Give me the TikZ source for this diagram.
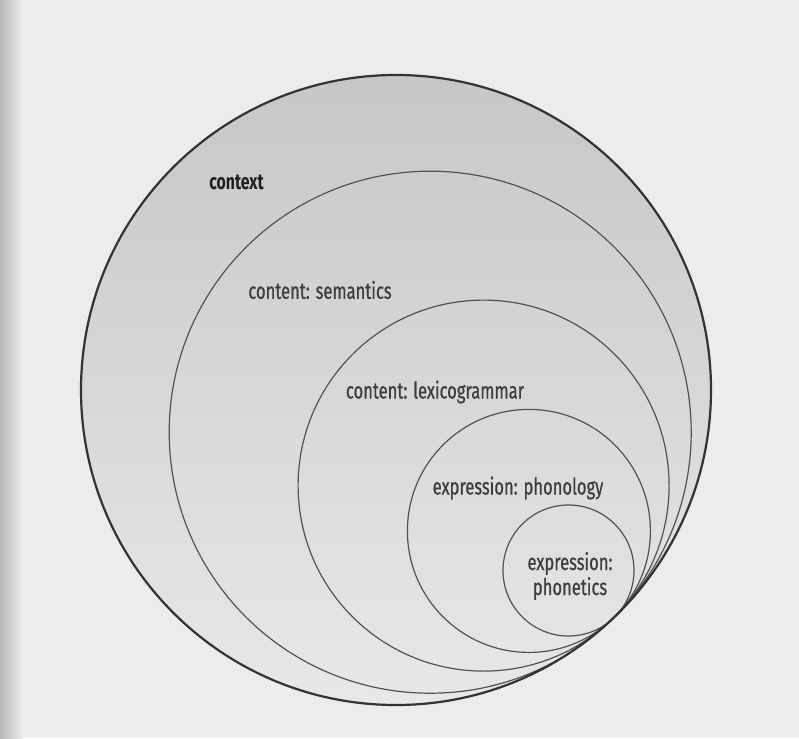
\documentclass[tikz,border=0pt]{standalone}
\usepackage{fontspec}
\setmainfont{Fira Sans}[FakeStretch=0.72, FakeBold=0.6]
\newfontfamily\ctxfont{Fira Sans}[FakeStretch=0.72]
\begin{document}
\begin{tikzpicture}[x=1pt,y=-1pt,
  ring/.style={draw=black!68, line width=1.2pt},
  outerring/.style={draw=black!80, line width=2.2pt},
  lbl/.style={text=black!76, font=\fontsize{23}{27}\selectfont, inner sep=0pt},
  boldlbl/.style={text=black!88, font=\ctxfont\fontsize{22}{26}\selectfont\bfseries, inner sep=0pt}]
\definecolor{pagebg}{RGB}{236,236,236}
\useasboundingbox (0,0) rectangle (799,738);
\fill[pagebg] (0,0) rectangle (799,738);
\shade[left color=black!28, right color=pagebg] (0,0) rectangle (22,738);
% tangent point and circle centres
\coordinate (T) at (614.8,616.8);
\coordinate (c0) at (396,390);
\coordinate (c1) at (430.2,432.2);
\coordinate (c2) at (483.6,485.6);
\coordinate (c3) at (528.9,530.9);
\coordinate (c4) at (568.5,570.5);
\shade[shading=axis, shading angle=135, top color=black!22, bottom color=black!9] (c0) circle[radius=315pt];
\draw[ring] (c1) circle[radius=261pt];
\draw[ring] (c2) circle[radius=185.5pt];
\draw[ring] (c3) circle[radius=121.5pt];
\draw[ring] (c4) circle[radius=65.5pt];
\draw[outerring] (c0) circle[radius=315pt];
% labels
\node[boldlbl] (ctx) at (236.5,182) {context};
\node[lbl] (sem) at (320,290) {content: semantics};
\node[lbl] (lex) at (435,392) {content: lexicogrammar};
\node[lbl] (phon) at (518,488) {expression: phonology};
\node[lbl, align=center, text width=100pt] (phonet) at (570,576) {expression:\\[-2pt]phonetics};
\end{tikzpicture}
\end{document}
